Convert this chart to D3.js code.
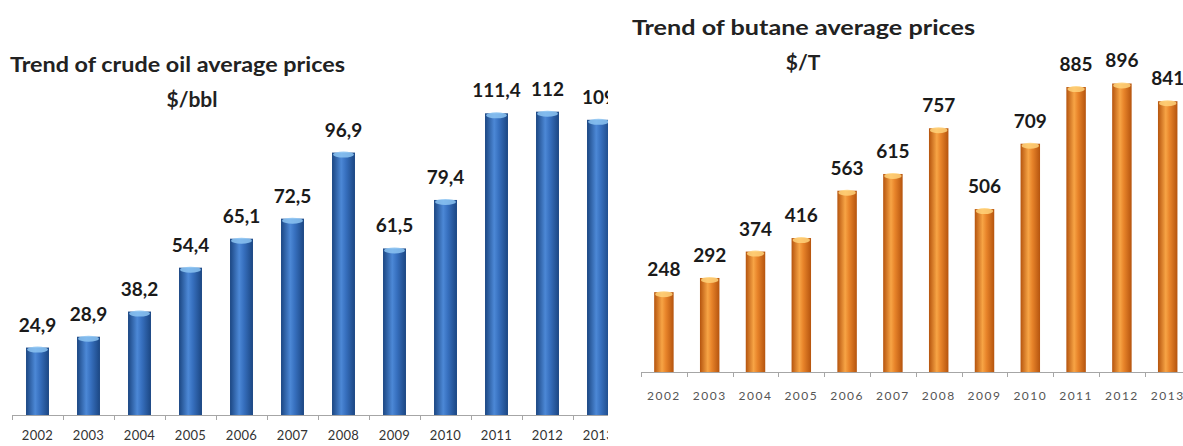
<!DOCTYPE html>
<html>
<head>
<meta charset="utf-8">
<script src="https://cdn.jsdelivr.net/npm/d3@7"></script>
<style>
  body { margin: 0; background: #fff; }
  svg { display: block; }
  text { font-family: Lato, "Open Sans", sans-serif; }
</style>
</head>
<body>
<div id="chart"></div>
<script>
const years = ["2002", "2003", "2004", "2005", "2006", "2007", "2008", "2009", "2010", "2011", "2012", "2013"]
const oilPrices = [24.9, 28.9, 38.2, 54.4, 65.1, 72.5, 96.9, 61.5, 79.4, 111.4, 112, 109]
const oilLabels = ["24,9", "28,9", "38,2", "54,4", "65,1", "72,5", "96,9", "61,5", "79,4", "111,4", "112", "109"]
const butanePrices = [248, 292, 374, 416, 563, 615, 757, 506, 709, 885, 896, 841]
const butaneLabels = ["248", "292", "374", "416", "563", "615", "757", "506", "709", "885", "896", "841"]

const W = 1183
const H = 446

const svg = d3.select("#chart")
              .append("svg")
              .attr("width", W)
              .attr("height", H)

const defs = svg.append("defs")

function cylinderGradient(id, edge, mid, light) {
  const g = defs.append("linearGradient")
                .attr("id", id)
                .attr("x1", "0%").attr("x2", "100%")
                .attr("y1", "0%").attr("y2", "0%")
  g.append("stop").attr("offset", "0%").attr("stop-color", edge)
  g.append("stop").attr("offset", "40%").attr("stop-color", light)
  g.append("stop").attr("offset", "60%").attr("stop-color", mid)
  g.append("stop").attr("offset", "100%").attr("stop-color", edge)
}
cylinderGradient("blueBar", "#1b4682", "#3770bf", "#4c88d6")
cylinderGradient("orangeBar", "#b5540e", "#e8842a", "#f7a445")

defs.append("clipPath").attr("id", "leftClip")
    .append("rect").attr("x", 0).attr("y", 0).attr("width", 608).attr("height", H)

function drawChart(cfg) {
  const g = svg.append("g")
  if (cfg.clip) g.attr("clip-path", `url(#${cfg.clip})`)

  const x = d3.scaleBand()
              .domain(years)
              .range(cfg.xRange)
              .paddingInner(cfg.pad)
              .paddingOuter(cfg.pad / 2)
  const y = d3.scaleLinear()
              .domain([0, cfg.max])
              .range([cfg.base, cfg.top])

  // axis line + boundary ticks
  const step = x.step()
  const bounds = years.map(d => x(d) - step * cfg.pad / 2).concat([cfg.xRange[1]])
  g.append("line")
   .attr("x1", cfg.xRange[0]).attr("x2", cfg.xRange[1])
   .attr("y1", cfg.base + 0.5).attr("y2", cfg.base + 0.5)
   .attr("stroke", "#a6a6a6")
  g.selectAll(".btick").data(bounds).join("line")
   .attr("x1", d => Math.round(d) + 0.5).attr("x2", d => Math.round(d) + 0.5)
   .attr("y1", cfg.base).attr("y2", cfg.base + 5)
   .attr("stroke", "#a6a6a6")

  const axis = d3.axisBottom(x).tickSize(0).tickPadding(cfg.labelPad)
  const ax = g.append("g")
              .attr("transform", `translate(0, ${cfg.base})`)
              .call(axis)
  ax.select(".domain").remove()
  ax.selectAll("text")
    .attr("font-size", cfg.tickFont)
    .attr("fill", cfg.tickColor)
    .attr("letter-spacing", cfg.tickSpacing)
    .style("font-family", "Lato, sans-serif")

  const bw = x.bandwidth()
  g.selectAll(".bar").data(cfg.values).join("rect")
   .attr("x", (d, i) => x(years[i]))
   .attr("y", d => y(d))
   .attr("width", bw)
   .attr("height", d => cfg.base - y(d))
   .attr("fill", `url(#${cfg.grad})`)

  g.selectAll(".cap").data(cfg.values).join("ellipse")
   .attr("cx", (d, i) => x(years[i]) + bw / 2)
   .attr("cy", d => y(d) + 2)
   .attr("rx", bw / 2 - 1)
   .attr("ry", 3)
   .attr("fill", cfg.capColor)
   .attr("opacity", 0.85)

  g.selectAll(".val").data(cfg.values).join("text")
   .attr("x", (d, i) => x(years[i]) + bw / 2)
   .attr("y", d => y(d) - 16)
   .attr("text-anchor", "middle")
   .attr("font-size", 19)
   .attr("font-weight", "bold")
   .attr("fill", "#1a1a1a")
   .text((d, i) => cfg.labels[i])

  g.append("text")
   .attr("x", cfg.titleX).attr("y", cfg.titleY)
   .attr("font-size", 21).attr("font-weight", "bold").attr("fill", "#222")
   .attr("textLength", cfg.titleLen).attr("lengthAdjust", "spacingAndGlyphs")
   .text(cfg.title)
  g.append("text")
   .attr("x", cfg.unitX).attr("y", cfg.titleY + 35)
   .attr("text-anchor", "middle")
   .attr("font-size", 21).attr("font-weight", "bold").attr("fill", "#222")
   .text(cfg.unit)
}

drawChart({
  values: oilPrices, labels: oilLabels,
  xRange: [12, 624], pad: 0.55,
  base: 415, top: 90, max: 120,
  grad: "blueBar", capColor: "#8cc4f2",
  labelPad: 16, tickFont: 13, tickColor: "#333", tickSpacing: 0.3,
  title: "Trend of crude oil average prices", titleX: 10, titleY: 72, titleLen: 335,
  unit: "$/bbl", unitX: 192,
  clip: "leftClip"
})

drawChart({
  values: butanePrices, labels: butaneLabels,
  xRange: [641, 641 + 12 * 45.8], pad: 0.575,
  base: 372, top: 50, max: 1000,
  grad: "orangeBar", capColor: "#ffd27a",
  labelPad: 19, tickFont: 12, tickColor: "#555", tickSpacing: 1.5,
  title: "Trend of butane average prices", titleX: 632, titleY: 35, titleLen: 343,
  unit: "$/T", unitX: 803
})
</script>
</body>
</html>
